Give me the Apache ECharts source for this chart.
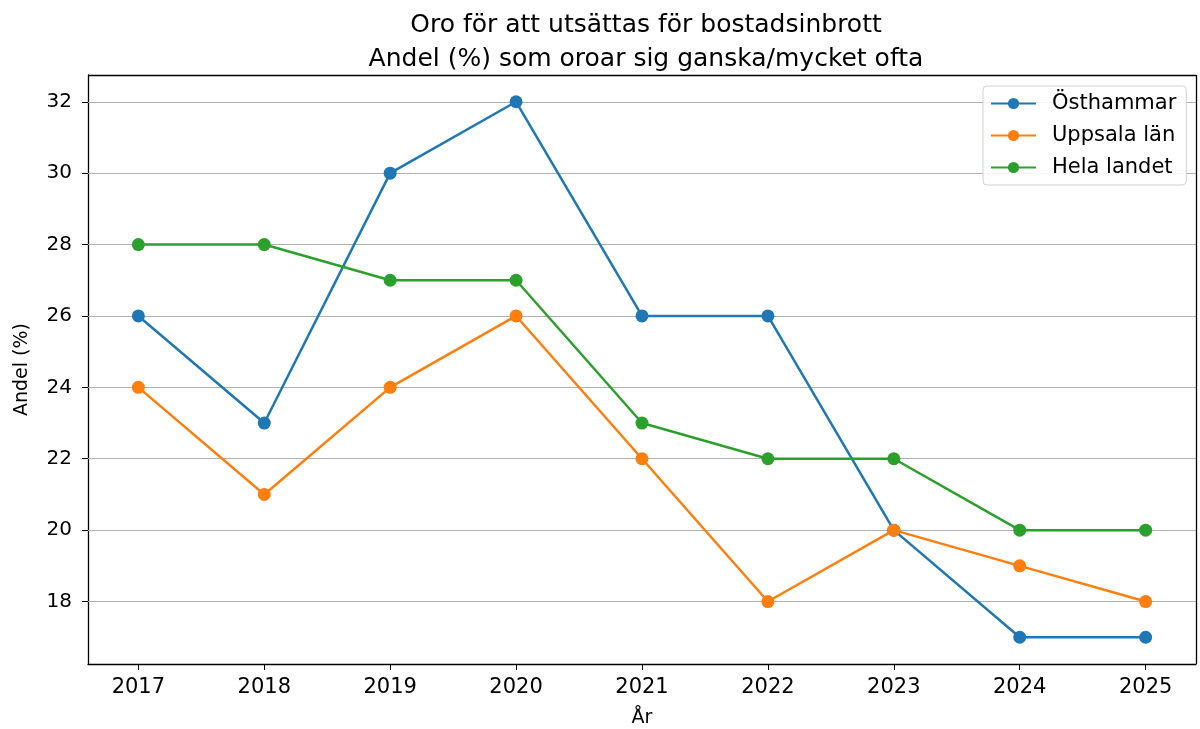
<!DOCTYPE html>
<html>
<head>
<meta charset="utf-8">
<script src="https://cdn.jsdelivr.net/npm/echarts@6/dist/echarts.min.js"></script>
<style>
  html, body { margin: 0; padding: 0; background: #fff; }
  #chart { width: 1200px; height: 729px; }
</style>
</head>
<body>
<div id="chart"></div>
<script>
// data
var years = [2017, 2018, 2019, 2020, 2021, 2022, 2023, 2024, 2025];
var osthammar = [26, 23, 30, 32, 26, 26, 20, 17, 17];
var uppsala = [24, 21, 24, 26, 22, 18, 20, 19, 18];
var helaLandet = [28, 28, 27, 27, 23, 22, 22, 20, 20];
var yTicks = [18, 20, 22, 24, 26, 28, 30, 32];

function pairs(vals) {
  return years.map(function (y, i) { return [y, vals[i]]; });
}

var font = "DejaVu Sans";
var chart = echarts.init(document.getElementById("chart"));

function line(name, color, vals) {
  return {
    name: name,
    type: "line",
    data: pairs(vals),
    symbol: "circle",
    symbolSize: 13,
    lineStyle: { color: color, width: 2.5 },
    itemStyle: { color: color },
    emphasis: { disabled: true },
    z: 3
  };
}

chart.setOption({
  animation: false,
  textStyle: { fontFamily: font },
  title: {
    text: "Oro för att utsättas för bostadsinbrott\nAndel (%) som oroar sig ganska/mycket ofta",
    left: 641,
    textAlign: "center",
    top: 3,
    textStyle: { fontFamily: font, fontSize: 25, fontWeight: "normal", color: "#000", lineHeight: 34 }
  },
  legend: {
    orient: "vertical",
    left: 983,
    top: 86,
    padding: [7, 10, 7, 7],
    itemGap: 11,
    itemWidth: 45,
    itemHeight: 14,
    backgroundColor: "rgba(255,255,255,0.9)",
    borderColor: "#d0d0d0",
    borderWidth: 1,
    borderRadius: 4,
    textStyle: { fontFamily: font, fontSize: 21, color: "#000", padding: [0, 0, 0, 11] },
    data: ["Östhammar", "Uppsala län", "Hela landet"]
  },
  grid: { left: 88, right: 4, top: 75, bottom: 65, outerBoundsMode: "none", containLabel: false },
  xAxis: {
    type: "value",
    min: 2016.6,
    max: 2025.4,
    name: "År",
    nameLocation: "middle",
    nameGap: 45,
    nameTextStyle: { fontFamily: font, fontSize: 19, color: "#000" },
    axisLine: { show: true, lineStyle: { color: "#000", width: 1.3 } },
    axisTick: { show: true, length: 6, lineStyle: { color: "#000" }, customValues: years },
    axisLabel: { fontFamily: font, fontSize: 21, color: "#000", margin: 13, customValues: years, formatter: function (v) { return String(v); } },
    splitLine: { show: false }
  },
  yAxis: {
    type: "value",
    min: 16.25,
    max: 32.75,
    name: "Andel (%)",
    nameLocation: "middle",
    nameGap: 56,
    nameTextStyle: { fontFamily: font, fontSize: 19, color: "#000" },
    axisLine: { show: true, lineStyle: { color: "#000", width: 1.3 } },
    axisTick: { show: true, length: 6, lineStyle: { color: "#000" }, customValues: yTicks },
    axisLabel: { fontFamily: font, fontSize: 20, color: "#000", margin: 16, customValues: yTicks },
    splitLine: { show: false }
  },
  series: [
    {
      name: "grid",
      type: "line",
      data: [],
      silent: true,
      z: 1,
      markLine: {
        silent: true,
        z: 1,
        symbol: "none",
        label: { show: false },
        lineStyle: { color: "#b0b0b0", width: 1, type: "solid" },
        data: yTicks.map(function (t) { return { yAxis: t }; })
      }
    },
    line("Östhammar", "#1f77b4", osthammar),
    line("Uppsala län", "#ff7f0e", uppsala),
    line("Hela landet", "#2ca02c", helaLandet),
    {
      name: "frame",
      type: "line",
      data: [],
      silent: true,
      markLine: {
        silent: true,
        z: 6,
        symbol: "none",
        label: { show: false },
        lineStyle: { color: "#000", width: 1.3, type: "solid" },
        data: [[{ coord: [2016.6, 32.75] }, { coord: [2025.4, 32.75] }],
               [{ coord: [2025.4, 32.75] }, { coord: [2025.4, 16.25] }]]
      }
    }
  ]
});
</script>
</body>
</html>
